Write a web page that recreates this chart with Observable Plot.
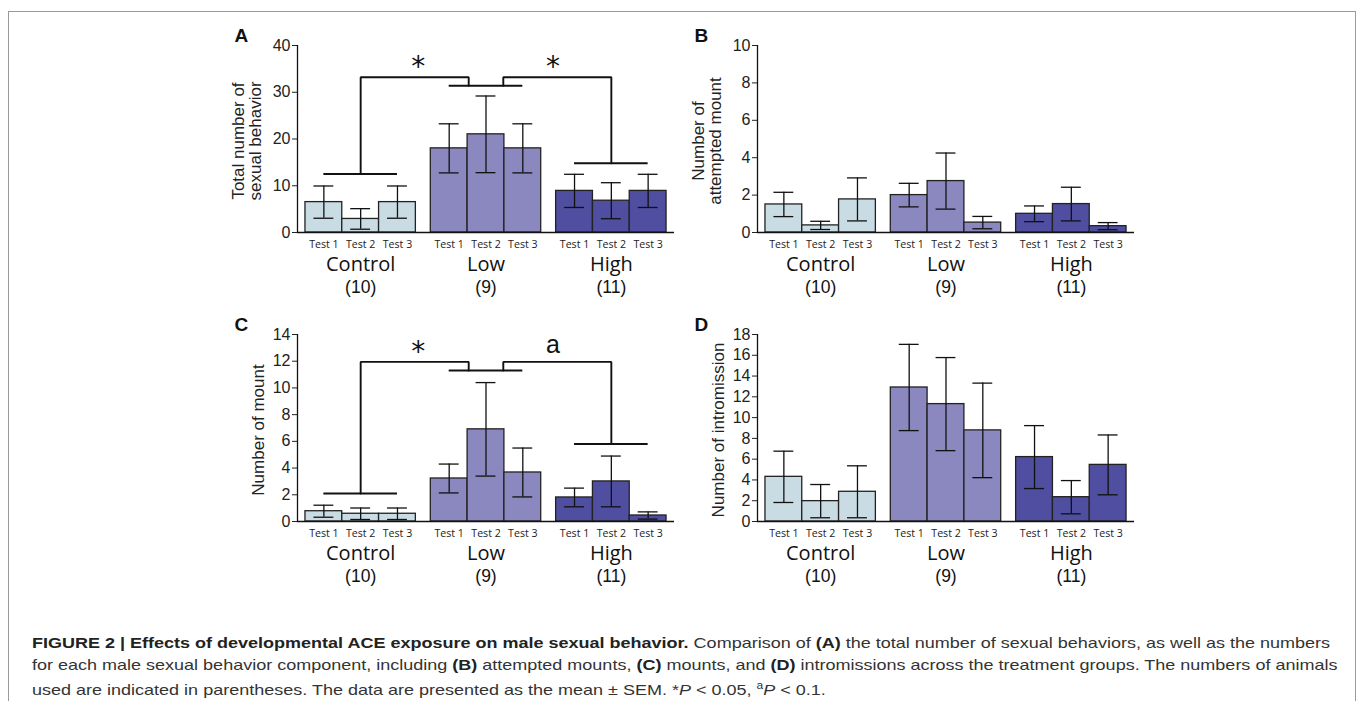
<!DOCTYPE html>
<html>
<head>
<meta charset="utf-8">
<script src="https://cdn.jsdelivr.net/npm/d3@7"></script>
<script src="https://cdn.jsdelivr.net/npm/@observablehq/plot@0.6"></script>
<style>
  html, body { margin: 0; padding: 0; background: #fff; }
  #fig { position: relative; width: 1358px; height: 701px; overflow: hidden; background: #fff; }
  #frame { position: absolute; left: 8px; top: 11px; width: 1348px; height: 720px; border: 1.5px solid #9a9a9a; box-sizing: border-box; }
  .panel { position: absolute; }
  #caption { position: absolute; left: 32px; top: 632px; font-family: "Liberation Sans", Arial, sans-serif; font-size: 15px; line-height: 21.6px; color: #333; white-space: nowrap; transform-origin: 0 0; }
  #caption b { color: #222; }
</style>
</head>
<body>
<div id="fig">
  <div id="frame"></div>
  <div id="caption"><b>FIGURE 2 | Effects of developmental ACE exposure on male sexual behavior.</b> Comparison of <b>(A)</b> the total number of sexual behaviors, as well as the numbers<br>for each male sexual behavior component, including <b>(B)</b> attempted mounts, <b>(C)</b> mounts, and <b>(D)</b> intromissions across the treatment groups. The numbers of animals<br>used are indicated in parentheses. The data are presented as the mean ± SEM. *<i>P</i> &lt; 0.05, <sup style="font-size:10px">a</sup><i>P</i> &lt; 0.1.</div>
</div>
<script>
// ---- data ----
const groups = ["Control", "Low", "High"];
const groupN = ["(10)", "(9)", "(11)"];
const tests = ["Test 1", "Test 2", "Test 3"];
const groupColors = ["#c9dce4", "#8b87bf", "#4f4ea0"];

// Panel A: total number of sexual behavior (mean, SEM) ordered Control T1..T3, Low T1..T3, High T1..T3
const totalMean = [6.5, 2.9, 6.5, 18.0, 21.0, 18.0, 8.9, 6.8, 8.9];
const totalSem  = [3.45, 2.2, 3.45, 5.25, 8.2, 5.25, 3.55, 3.85, 3.55];
// Panel B: attempted mount
const attemptMean = [1.5, 0.38, 1.77, 2.0, 2.75, 0.53, 1.0, 1.52, 0.34];
const attemptSem  = [0.65, 0.22, 1.15, 0.63, 1.5, 0.33, 0.42, 0.9, 0.19];
// Panel C: mount
const mountMean = [0.77, 0.58, 0.58, 3.22, 6.9, 3.67, 1.8, 3.0, 0.45];
const mountSem  = [0.45, 0.43, 0.43, 1.08, 3.5, 1.83, 0.7, 1.9, 0.27];
// Panel D: intromission
const introMean = [4.3, 1.96, 2.86, 12.9, 11.3, 8.77, 6.2, 2.34, 5.45];
const introSem  = [2.47, 1.6, 2.5, 4.15, 4.48, 4.55, 3.03, 1.6, 2.88];

// Significance brackets: [Control level, Low level, High level, top level, label level]
const bracketA = [12.5, 31.4, 14.8, 33.2, 36.8];
const bracketC = [2.1, 11.3, 5.8, 11.95, 13.2];
const labelsA = ["*", "*"];
const labelsC = ["*", "a"];

// ---- layout (in units of bar width) ----
const GAP = 15 / 37, PAD = 8 / 37;
const xDomain = [-PAD, 9 + 2 * GAP + PAD];
const groupStart = gi => gi * (3 + GAP);

function rows(means, sems) {
  return groups.flatMap((g, gi) => tests.map((t, ti) => {
    const k = gi * 3 + ti;
    const x1 = groupStart(gi) + ti;
    return {group: g, test: t, x1, x2: x1 + 1, xc: x1 + 0.5,
            mean: means[k], lo: means[k] - sems[k], hi: means[k] + sems[k]};
  }));
}

function bracketMarks(b, labels) {
  const [lc, ll, lh, top, ly] = b;
  const cC = groupStart(0) + 1.5, cL = groupStart(1) + 1.5, cH = groupStart(2) + 1.5;
  const leftConn = cL - 0.47, rightConn = cL + 0.47;
  const hlines = [
    {y: lc, x1: groupStart(0) + 0.5, x2: groupStart(0) + 2.5},
    {y: ll, x1: groupStart(1) + 0.5, x2: groupStart(1) + 2.5},
    {y: lh, x1: groupStart(2) + 0.5, x2: groupStart(2) + 2.5}
  ];
  const path1 = [[cC, lc], [cC, top], [leftConn, top], [leftConn, ll]];
  const path2 = [[rightConn, ll], [rightConn, top], [cH, top], [cH, lh]];
  const lab = [
    {x: (cC + leftConn) / 2 + 0.1, y: ly, t: labels[0]},
    {x: (rightConn + cH) / 2 - 0.12, y: ly, t: labels[1]}
  ];
  const stars = lab.filter(d => d.t === "*");
  const letters = lab.filter(d => d.t !== "*");
  const bstyle = {stroke: "#111", strokeWidth: 1.9};
  return [
    Plot.ruleY(hlines, {y: "y", x1: "x1", x2: "x2", ...bstyle}),
    Plot.line(path1, {x: d => d[0], y: d => d[1], ...bstyle, strokeLinejoin: "miter"}),
    Plot.line(path2, {x: d => d[0], y: d => d[1], ...bstyle, strokeLinejoin: "miter"}),
    Plot.text(stars, {x: "x", y: "y", text: "t", fontSize: 28, fontFamily: "DejaVu Sans", dy: 7, fill: "#111"}),
    Plot.text(letters, {x: "x", y: "y", text: "t", fontSize: 25, fontFamily: "Liberation Sans", fill: "#111"})
  ];
}

function panel({letter, title, titleDx, means, sems, yMax, yStep, bracket, labels, left, top}) {
  const data = rows(means, sems);
  const groupLabels = groups.map((g, gi) => ({x: groupStart(gi) + 1.5, g, n: groupN[gi]}));
  const capHalf = 0.27;
  const marks = [
    Plot.rectY(data, {x1: "x1", x2: "x2", y1: 0, y2: "mean", fill: "group", stroke: "#222", strokeWidth: 1.3}),
    Plot.ruleX(data, {x: "xc", y1: "lo", y2: "hi", stroke: "#111", strokeWidth: 1.3}),
    Plot.ruleY(data, {y: "hi", x1: d => d.xc - capHalf, x2: d => d.xc + capHalf, stroke: "#111", strokeWidth: 1.3}),
    Plot.ruleY(data, {y: "lo", x1: d => d.xc - capHalf, x2: d => d.xc + capHalf, stroke: "#111", strokeWidth: 1.3}),
    Plot.ruleY([0], {stroke: "#111", strokeWidth: 1.5}),
    Plot.ruleX([xDomain[0]], {stroke: "#111", strokeWidth: 1.3}),
    Plot.text(data, {x: "xc", y: 0, text: "test", dy: 12.5, fontFamily: "Open Sans", fontSize: 10.6, fill: "#222"}),
    Plot.text(groupLabels, {x: "x", y: 0, text: "g", dy: 32, fontFamily: "Open Sans", fontSize: 20, fill: "#111"}),
    Plot.text(groupLabels, {x: "x", y: 0, text: "n", dy: 55, fontFamily: "Liberation Sans", fontSize: 17.5, fill: "#111"}),
    Plot.text([title], {frameAnchor: "left", text: d => d, rotate: -90, textAnchor: "middle", lineAnchor: "middle", dx: titleDx, dy: 2, fontSize: 17, lineHeight: 1.0, fill: "#222"}),
    Plot.text([letter], {frameAnchor: "top-left", text: d => d, dx: -63, dy: -17, fontSize: 19, fontWeight: "bold", fill: "#111"})
  ];
  if (bracket) marks.push(...bracketMarks(bracket, labels));
  const svg = Plot.plot({
    width: 480, height: 300,
    marginLeft: 100, marginRight: 3, marginTop: 30, marginBottom: 83,
    style: {background: "transparent", fontFamily: "Liberation Sans, Arial, sans-serif", fontSize: "16px", color: "#222", overflow: "visible"},
    x: {domain: xDomain, axis: null},
    y: {domain: [0, yMax], ticks: d3.range(0, yMax + 0.001, yStep), tickSize: 5, tickPadding: 2, label: null, tickFormat: d => String(d)},
    color: {domain: groups, range: groupColors},
    marks
  });
  const wrap = document.createElement("div");
  wrap.className = "panel";
  wrap.style.left = left + "px";
  wrap.style.top = top + "px";
  wrap.appendChild(svg);
  document.getElementById("fig").appendChild(wrap);
}

panel({letter: "A", title: "Total number of\nsexual behavior", titleDx: -50, means: totalMean, sems: totalSem, yMax: 40, yStep: 10, bracket: bracketA, labels: labelsA, left: 197, top: 15});
panel({letter: "B", title: "Number of\nattempted mount", titleDx: -50, means: attemptMean, sems: attemptSem, yMax: 10, yStep: 2, left: 657, top: 15});
panel({letter: "C", title: "Number of mount", titleDx: -39, means: mountMean, sems: mountSem, yMax: 14, yStep: 2, bracket: bracketC, labels: labelsC, left: 197, top: 304});
panel({letter: "D", title: "Number of intromission", titleDx: -39, means: introMean, sems: introSem, yMax: 18, yStep: 2, left: 657, top: 304});

// stretch caption horizontally to span the same width as the reference text block
const cap = document.getElementById("caption");
const firstLineWidth = (() => {
  const r = document.createRange();
  r.setStart(cap, 0);
  r.setEndBefore(cap.querySelector("br"));
  return r.getBoundingClientRect().width;
})();
cap.style.transform = `scaleX(${1298 / firstLineWidth})`;
</script>
</body>
</html>
